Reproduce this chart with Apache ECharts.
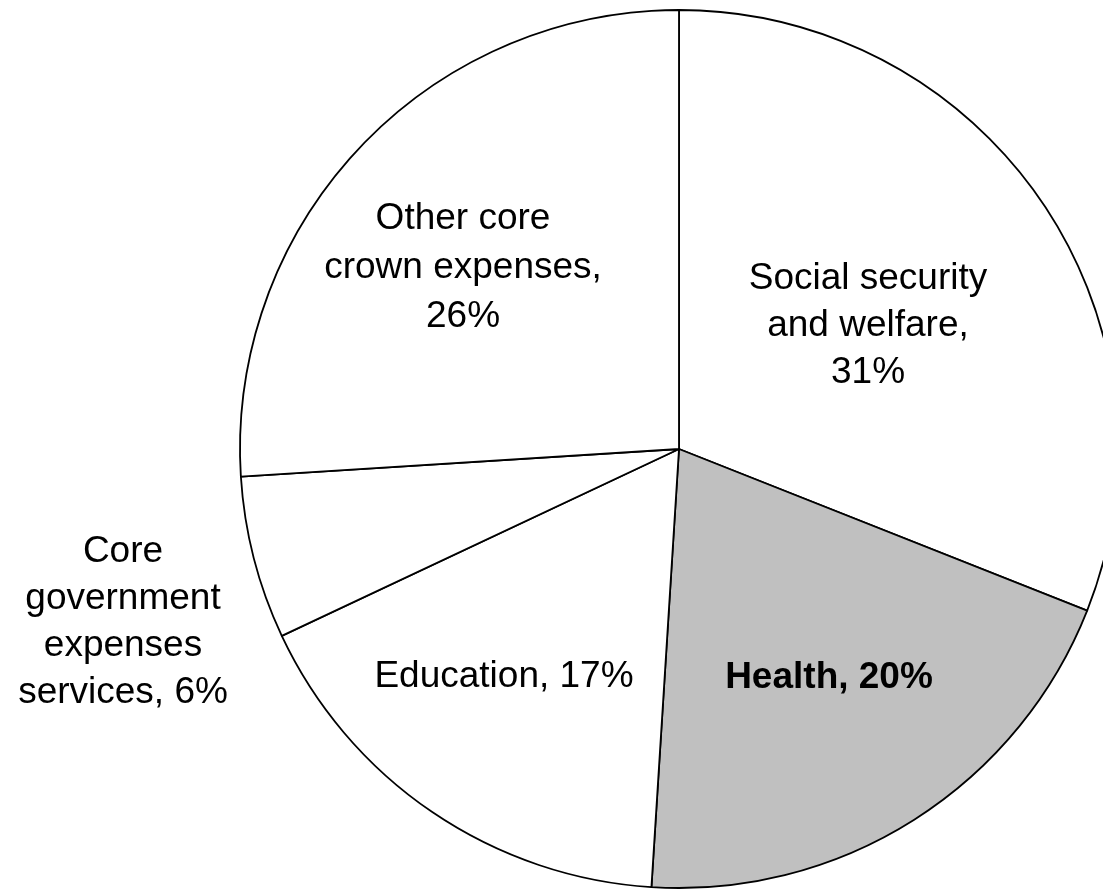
<!DOCTYPE html>
<html>
<head>
<meta charset="utf-8">
<title>Core crown expenses</title>
<script src="https://cdn.jsdelivr.net/npm/echarts@6/dist/echarts.min.js"></script>
<style>
  html, body { margin: 0; padding: 0; background: #ffffff; }
  #chart { width: 1103px; height: 890px; }
</style>
</head>
<body>
<div id="chart"></div>
<script>
// Share of core crown expenses, clockwise from twelve o'clock
const categories = [
  'Social security\nand welfare',
  'Health',
  'Education',
  'Core\ngovernment\nexpenses\nservices',
  'Other core\ncrown expenses'
];
const shares = [31, 20, 17, 6, 26];
const fills = ['#ffffff', '#c0c0c0', '#ffffff', '#ffffff', '#ffffff'];
const boldLabels = [false, true, false, false, false];
// Text between the category name and its percentage
const separators = [',\n', ', ', ', ', ', ', ',\n'];

// Label anchor points (centre of each text block) and line spacing
const labelAnchors = [
  [868, 326],
  [829, 678],
  [504, 677],
  [123, 622],
  [463, 268]
];
const labelLineHeights = [47, 48, 48, 47, 49];

const chart = echarts.init(document.getElementById('chart'), null, { renderer: 'canvas' });

const data = categories.map((name, i) => ({
  name: name,
  value: shares[i],
  itemStyle: { color: fills[i] },
  label: {
    fontWeight: boldLabels[i] ? 'bold' : 'normal',
    lineHeight: labelLineHeights[i]
  }
}));

chart.setOption({
  animation: false,
  backgroundColor: '#ffffff',
  series: [{
    type: 'pie',
    center: [679, 449],
    radius: [0, 439],
    startAngle: 90,
    clockwise: true,
    avoidLabelOverlap: false,
    silent: true,
    itemStyle: { borderColor: '#000000', borderWidth: 1.8 },
    label: {
      show: true,
      position: 'inside',
      color: '#000000',
      fontFamily: '"Liberation Sans", Arial, sans-serif',
      fontSize: 37,
      align: 'center',
      formatter: p => p.name + separators[p.dataIndex] + p.value + '%'
    },
    labelLine: { show: false },
    labelLayout: p => ({
      x: labelAnchors[p.dataIndex][0],
      y: labelAnchors[p.dataIndex][1],
      align: 'center',
      verticalAlign: 'middle'
    }),
    data: data
  }]
});
</script>
</body>
</html>
